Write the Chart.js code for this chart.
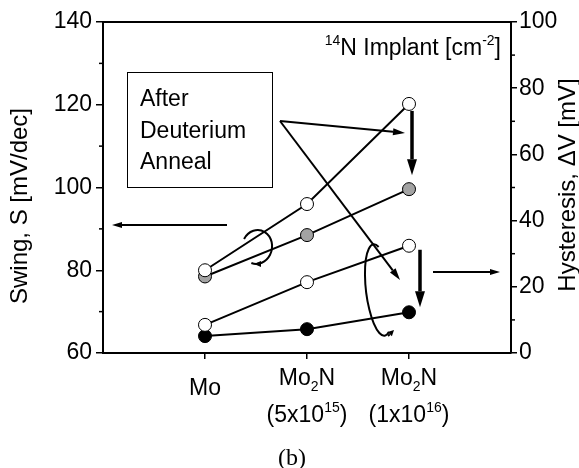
<!DOCTYPE html>
<html>
<head>
<meta charset="utf-8">
<script src="https://cdn.jsdelivr.net/npm/chart.js@4"></script>
<style>
  html, body { margin: 0; padding: 0; background: #fff; }
  #wrap { width: 579px; height: 468px; }
</style>
</head>
<body>
<div id="wrap"><canvas id="grafico" width="579" height="468"></canvas></div>
<script>
// === DATOS ===
// etiquetas del eje x: "_{}" subindice, "^{}" superindice
const categorias = [['Mo'], ['Mo_{2}N', '(5x10^{15})'], ['Mo_{2}N', '(1x10^{16})']];
const posX = [1, 2, 3];
// Swing S [mV/dec] (eje izquierdo)
const swingSinAnneal = [80, 96, 120.2];
const swingAnneal = [78.5, 88.5, 99.6];
// Histeresis dV [mV] (eje derecho)
const histSinAnneal = [8.5, 21.4, 32.4];
const histAnneal = [5.1, 7.2, 12.3];
const rangoSwing = [60, 140];
const rangoHist = [0, 100];
const pasoTicks = 20;

const FUENTE = '"Liberation Sans", Arial, sans-serif';

// === TEXTO CON SUB/SUPERINDICES ===
function partes(str) {
  return str.split(/(\^\{[^}]*\}|_\{[^}]*\})/).filter(s => s).map(s => {
    if (s.startsWith('^{')) return { t: s.slice(2, -1), tipo: 'sup' };
    if (s.startsWith('_{')) return { t: s.slice(2, -1), tipo: 'sub' };
    return { t: s, tipo: 'n' };
  });
}
function textoRico(ctx, str, x, y, size, align) {
  const ps = partes(str);
  const chico = Math.round(size * 0.62);
  let ancho = 0;
  ps.forEach(p => {
    ctx.font = (p.tipo === 'n' ? size : chico) + 'px ' + FUENTE;
    p.w = ctx.measureText(p.t).width;
    ancho += p.w;
  });
  let cx = align === 'center' ? x - ancho / 2 : align === 'right' ? x - ancho : x;
  ctx.textAlign = 'left';
  ctx.textBaseline = 'alphabetic';
  ps.forEach(p => {
    ctx.font = (p.tipo === 'n' ? size : chico) + 'px ' + FUENTE;
    let dy = 0;
    if (p.tipo === 'sup') dy = -size * 0.45;
    if (p.tipo === 'sub') dy = size * 0.28;
    ctx.fillText(p.t, cx, y + dy);
    cx += p.w;
  });
}

function flecha(ctx, x1, y1, x2, y2, grosor, largo, ancho) {
  const ang = Math.atan2(y2 - y1, x2 - x1);
  const bx = x2 - largo * Math.cos(ang), by = y2 - largo * Math.sin(ang);
  ctx.lineWidth = grosor;
  ctx.beginPath(); ctx.moveTo(x1, y1); ctx.lineTo(bx, by); ctx.stroke();
  ctx.beginPath();
  ctx.moveTo(x2, y2);
  ctx.lineTo(bx + ancho / 2 * Math.sin(ang), by - ancho / 2 * Math.cos(ang));
  ctx.lineTo(bx - ancho / 2 * Math.sin(ang), by + ancho / 2 * Math.cos(ang));
  ctx.closePath(); ctx.fill();
}

// === DECORACION: marco, ticks menores, etiquetas y anotaciones ===
const decoracion = {
  id: 'decoracion',
  afterDraw(chart) {
    const { ctx, chartArea: a, scales } = chart;
    const sx = scales.x, sS = scales.yS, sH = scales.yH;
    ctx.save();
    ctx.strokeStyle = '#000';
    ctx.fillStyle = '#000';

    // borde superior
    ctx.lineWidth = 2;
    ctx.beginPath(); ctx.moveTo(a.left, a.top); ctx.lineTo(a.right, a.top); ctx.stroke();

    // ticks menores
    ctx.lineWidth = 1.5;
    for (let v = rangoSwing[0] + 10; v < rangoSwing[1]; v += pasoTicks) {
      const py = sS.getPixelForValue(v);
      ctx.beginPath(); ctx.moveTo(a.left - 4, py); ctx.lineTo(a.left, py); ctx.stroke();
    }
    for (let v = rangoHist[0] + 10; v < rangoHist[1]; v += pasoTicks) {
      const py = sH.getPixelForValue(v);
      ctx.beginPath(); ctx.moveTo(a.right, py); ctx.lineTo(a.right + 4, py); ctx.stroke();
    }

    // etiquetas del eje x
    categorias.forEach((lineas, i) => {
      const px = sx.getPixelForValue(posX[i]);
      if (lineas.length === 1) {
        textoRico(ctx, lineas[0], px, a.bottom + 42, 23, 'center');
      } else {
        textoRico(ctx, lineas[0], px, a.bottom + 32, 23, 'center');
        textoRico(ctx, lineas[1], px, a.bottom + 69, 23, 'center');
      }
    });
    ctx.font = '24px "Liberation Serif", "Times New Roman", serif';
    ctx.textAlign = 'center';
    ctx.fillText('(b)', 292, 465);

    // titulos de ejes
    ctx.save();
    ctx.translate(20, 206);
    ctx.rotate(-Math.PI / 2);
    ctx.font = '24px ' + FUENTE;
    ctx.textAlign = 'center'; ctx.textBaseline = 'middle';
    ctx.fillText('Swing, S [mV/dec]', 0, 0);
    ctx.restore();
    ctx.save();
    ctx.translate(568, 185);
    ctx.rotate(-Math.PI / 2);
    ctx.font = '24px ' + FUENTE;
    ctx.textAlign = 'center'; ctx.textBaseline = 'middle';
    ctx.fillText('Hysteresis, \u0394V [mV]', 0, 0);
    ctx.restore();

    // leyenda del implante
    textoRico(ctx, '^{14}N Implant [cm^{-2}]', a.right - 10, a.top + 33, 23, 'right');

    // recuadro "After Deuterium Anneal"
    ctx.lineWidth = 1;
    ctx.strokeRect(127.5, 72.5, 145, 115);
    ctx.font = '23px ' + FUENTE;
    ctx.textAlign = 'left'; ctx.textBaseline = 'alphabetic';
    ctx.fillText('After', 140, 106);
    ctx.fillText('Deuterium', 140, 138);
    ctx.fillText('Anneal', 140, 169);

    // flechas desde el recuadro
    const xc3 = sx.getPixelForValue(posX[2]);
    flecha(ctx, 280, 121, xc3 - 4, 133, 2, 12, 7);
    flecha(ctx, 280, 121, xc3 - 9, 280, 2, 12, 7);

    // flechas gruesas del anneal
    flecha(ctx, xc3 + 3, sS.getPixelForValue(swingSinAnneal[2]) + 7,
      xc3 + 3, sS.getPixelForValue(swingAnneal[2]) - 14, 3.5, 16, 10);
    flecha(ctx, xc3 + 11, sH.getPixelForValue(histSinAnneal[2]) + 4,
      xc3 + 11, sH.getPixelForValue(histAnneal[2]) - 5, 3.5, 16, 10);

    // flechas a los ejes
    flecha(ctx, 227, 225, a.left + 9, 225, 2, 10, 6);
    flecha(ctx, 433, 272, a.right - 11, 272, 2, 10, 6);

    // bucles
    ctx.lineWidth = 2;
    ctx.beginPath();
    ctx.ellipse(257, 247, 15, 17, 0.2, Math.PI * 1.1, Math.PI * 0.55);
    ctx.stroke();
    flecha(ctx, 261, 264, 254, 264, 2, 7, 6);
    ctx.beginPath();
    ctx.ellipse(379, 290, 13, 46, -0.12, Math.PI * 1.62, Math.PI * 0.38, true);
    ctx.stroke();
    flecha(ctx, 388, 336, 394, 330, 2, 6, 6);

    ctx.restore();
  }
};

// === GRAFICO ===
const puntos = vals => vals.map((v, i) => ({ x: posX[i], y: v }));
const estilo = (relleno, eje) => ({
  yAxisID: eje,
  borderColor: '#000',
  borderWidth: 2,
  pointRadius: 6.5,
  pointHoverRadius: 6.5,
  pointBackgroundColor: relleno,
  pointBorderColor: '#000',
  pointBorderWidth: 1,
  showLine: true,
  fill: false,
  tension: 0
});

const ctx = document.getElementById('grafico').getContext('2d');
new Chart(ctx, {
  type: 'scatter',
  data: {
    datasets: [
      { label: 'S', data: puntos(swingSinAnneal), ...estilo('#ffffff', 'yS') },
      { label: 'S anneal', data: puntos(swingAnneal), ...estilo('#a3a3a3', 'yS') },
      { label: 'dV', data: puntos(histSinAnneal), ...estilo('#ffffff', 'yH') },
      { label: 'dV anneal', data: puntos(histAnneal), ...estilo('#000000', 'yH') }
    ]
  },
  options: {
    responsive: false,
    animation: false,
    events: [],
    layout: { padding: { top: 22, left: 0, right: 0, bottom: 0 } },
    plugins: { legend: { display: false }, tooltip: { enabled: false } },
    scales: {
      x: {
        type: 'linear', min: 0, max: 4,
        ticks: { stepSize: 1, callback: () => '' },
        grid: {
          drawOnChartArea: false, tickLength: 6, lineWidth: 1.5,
          color: c => (c.tick && (c.tick.value === 0 || c.tick.value === 4)) ? 'rgba(0,0,0,0)' : '#000'
        },
        border: { color: '#000', width: 2 },
        afterFit: s => { s.height = 115; }
      },
      yS: {
        position: 'left', min: rangoSwing[0], max: rangoSwing[1],
        ticks: { stepSize: pasoTicks, color: '#000', padding: 4, font: { size: 23, family: FUENTE } },
        grid: { drawOnChartArea: false, tickLength: 7, color: '#000', lineWidth: 1.5 },
        border: { color: '#000', width: 2 },
        afterFit: s => { s.width = 103; }
      },
      yH: {
        position: 'right', min: rangoHist[0], max: rangoHist[1],
        ticks: { stepSize: pasoTicks, color: '#000', padding: 2, font: { size: 23, family: FUENTE } },
        grid: { drawOnChartArea: false, tickLength: 6, color: '#000', lineWidth: 1.5 },
        border: { color: '#000', width: 2 },
        afterFit: s => { s.width = 68; }
      }
    }
  },
  plugins: [decoracion]
});
</script>
</body>
</html>
